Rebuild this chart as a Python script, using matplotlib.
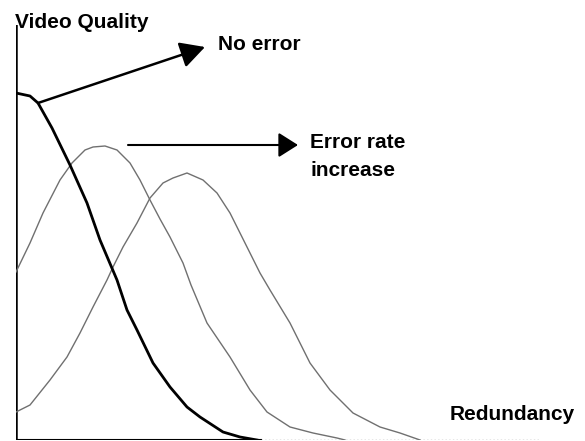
import matplotlib
matplotlib.use("Agg")
import matplotlib.pyplot as plt

# curves (x = redundancy, y = video quality)
no_error_x = [0, 14, 22, 36, 54, 71, 84, 101, 111, 121, 137, 154, 171, 184, 207, 224, 241]
no_error_y = [347, 344, 337, 312, 275, 237, 200, 160, 130, 110, 77, 53, 33, 23, 8, 3, 0]

err1_x = [0, 14, 27, 44, 56, 69, 77, 89, 101, 114, 124, 134, 144, 154, 167, 175, 191,
          214, 234, 251, 274, 297, 321, 329]
err1_y = [168, 197, 227, 260, 277, 290, 293, 294, 290, 277, 260, 240, 221, 203, 177, 155,
          117, 83, 50, 28, 13, 7, 2, 0]

err2_x = [0, 14, 34, 51, 64, 77, 91, 97, 107, 121, 134, 147, 157, 171, 187, 201, 214,
          224, 234, 244, 254, 274, 294, 314, 337, 364, 384, 404]
err2_y = [28, 35, 60, 83, 107, 133, 160, 173, 193, 217, 242, 257, 262, 267, 260, 247, 227,
          207, 187, 167, 150, 117, 77, 50, 27, 13, 7, 0]

Y_LABEL = "Video Quality"
X_LABEL = "Redundancy"
NO_ERROR_LABEL = "No error"
ERROR_LABEL = ["Error rate", "increase"]

plt.rcParams["font.family"] = ["Liberation Sans", "DejaVu Sans"]
FONT = dict(fontsize=15, fontweight="bold", color="black")

fig = plt.figure(figsize=(5.85, 4.41), dpi=100)
ax = fig.add_axes([16 / 585, 1 / 441, 524 / 585, 415 / 441])
ax.set_xlim(0, 524)
ax.set_ylim(0, 415)
ax.axis("off")

# axes lines
ax.axvline(0, color="black", lw=1.8)
ax.axhline(0, xmax=245 / 524, color="black", lw=1.5)
ax.axhline(0, xmin=245 / 524, color="#888888", lw=1.0, ls=":")

ax.plot(err1_x, err1_y, color="#707070", lw=1.0)
ax.plot(err2_x, err2_y, color="#707070", lw=1.0)
ax.plot(no_error_x, no_error_y, color="black", lw=2.0)

ax.text(-1, 418, Y_LABEL, ha="left", va="center", clip_on=False, **FONT)
ax.text(434, 25, X_LABEL, ha="left", va="center", clip_on=False, **FONT)
ax.text(202, 395, NO_ERROR_LABEL, ha="left", va="center", clip_on=False, **FONT)
ax.text(294, 298, ERROR_LABEL[0], ha="left", va="center", clip_on=False, **FONT)
ax.text(294, 269, ERROR_LABEL[1], ha="left", va="center", clip_on=False, **FONT)

ax.annotate(
    "",
    xy=(189, 393),
    xytext=(no_error_x[2], no_error_y[2]),
    arrowprops=dict(
        arrowstyle="-|>,head_length=0.75,head_width=0.4",
        mutation_scale=20,
        color="black",
        lw=1.8,
        shrinkA=0,
        shrinkB=0,
    ),
    annotation_clip=False,
)

ax.annotate(
    "",
    xy=(282, 295),
    xytext=(112, 295),
    arrowprops=dict(
        arrowstyle="-|>,head_length=0.6,head_width=0.38",
        mutation_scale=20,
        color="black",
        lw=1.5,
        shrinkA=0,
        shrinkB=0,
    ),
    annotation_clip=False,
)

fig.savefig("out.png", dpi=100)
